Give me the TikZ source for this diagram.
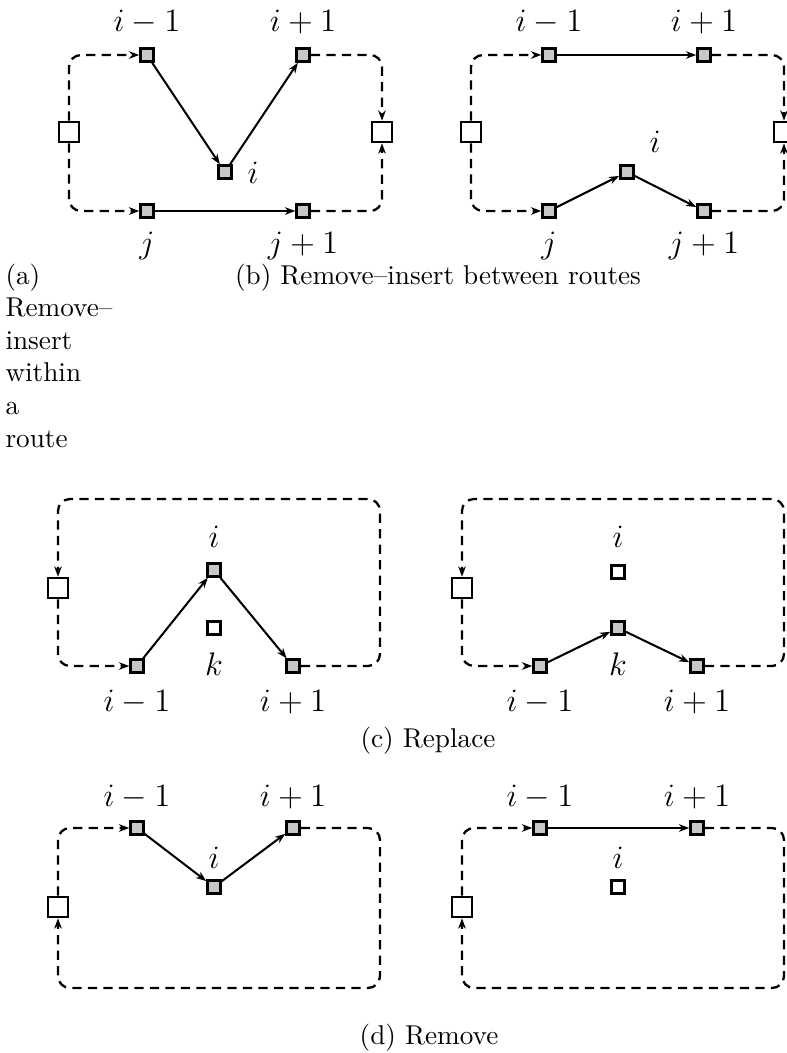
\documentclass[tikz,border=0pt]{standalone}
\usetikzlibrary{arrows.meta}
\begin{document}
\begin{tikzpicture}[x=0.3676pt,y=-0.3676pt,
  cust/.style={draw,fill=black!22,line width=0.9pt,minimum size=4.8pt,inner sep=0pt},
  depot/.style={draw,fill=white,line width=0.9pt,minimum size=7.4pt,inner sep=0pt},
  free/.style={draw,fill=white,line width=0.9pt,minimum size=4.8pt,inner sep=0pt},
  lbl/.style={font=\large,anchor=base,inner sep=0pt},
  captxt/.style={anchor=base,inner sep=0pt},
  arc/.style={line width=0.75pt,-{Stealth[length=3.8pt,width=2.8pt]}},
  route/.style={line width=0.85pt,dash pattern=on 3.4pt off 2.3pt,rounded corners=4.4pt},
  routea/.style={route,-{Stealth[length=3.8pt,width=2.8pt]}}
]
\useasboundingbox (0,0) rectangle (787,1053);

% ---------- (a) ----------
\node[depot] (aL) at (69,132) {};
\node[depot] (aR) at (382,132) {};
\node[cust] (aim) at (147,55) {};
\node[cust] (aip) at (303,55) {};
\node[cust] (ai) at (225,172) {};
\node[cust] (aj) at (147,211) {};
\node[cust] (ajp) at (303,211) {};
\draw[routea] (aL.north) |- (aim.west);
\draw[routea] (aL.south) |- (aj.west);
\draw[routea] (aip.east) -| (aR.north);
\draw[routea] (ajp.east) -| (aR.south);
\draw[arc] (aim) -- (ai);
\draw[arc] (ai) -- (aip);
\draw[arc] (aj) -- (ajp);
\node[lbl] (laim) at (147,31) {$i-1$};
\node[lbl] (laip) at (303,31) {$i+1$};
\node[lbl] (lai) at (253,183) {$i$};
\node[lbl] (laj) at (147,253) {$j$};
\node[lbl] (lajp) at (303,253) {$j+1$};

% ---------- (b) ----------
\node[depot] (bL) at (471,132) {};
\node[depot] (bR) at (784,132) {};
\node[cust] (bim) at (549,55) {};
\node[cust] (bip) at (704,55) {};
\node[cust] (bi) at (627,172) {};
\node[cust] (bj) at (549,211) {};
\node[cust] (bjp) at (704,211) {};
\draw[routea] (bL.north) |- (bim.west);
\draw[routea] (bL.south) |- (bj.west);
\draw[routea] (bip.east) -| (bR.north);
\draw[routea] (bjp.east) -| (bR.south);
\draw[arc] (bim) -- (bip);
\draw[arc] (bj) -- (bi);
\draw[arc] (bi) -- (bjp);
\node[lbl] (lbim) at (549,31) {$i-1$};
\node[lbl] (lbip) at (704,31) {$i+1$};
\node[lbl] (lbi) at (655,152) {$i$};
\node[lbl] (lbj) at (549,253) {$j$};
\node[lbl] (lbjp) at (704,253) {$j+1$};

% captions (a), (b)
\node[captxt,anchor=base west] (capa1) at (5,284) {(a)};
\node[captxt,anchor=base west] (capa2) at (5,316.6) {Remove--};
\node[captxt,anchor=base west] (capa3) at (5,349.2) {insert};
\node[captxt,anchor=base west] (capa4) at (5,381.8) {within};
\node[captxt,anchor=base west] (capa5) at (5,414.4) {a};
\node[captxt,anchor=base west] (capa6) at (5,447) {route};
\node[captxt] (capb) at (438,284) {(b) Remove--insert between routes};

% ---------- (c) left ----------
\coordinate (cTR) at (380,499);
\node[depot] (cD) at (58,588) {};
\node[cust] (cim) at (137,666) {};
\node[cust] (ci) at (214,570) {};
\node[cust] (cip) at (293,666) {};
\node[free] (ck) at (214,628) {};
\draw[routea] (cD.south) |- (cim.west);
\draw[routea] (cip.east) -| (cTR) -| (cD.north);
\draw[arc] (cim) -- (ci);
\draw[arc] (ci) -- (cip);
\node[lbl] (lci) at (214,547) {$i$};
\node[lbl] (lck) at (214,675) {$k$};
\node[lbl] (lcim) at (137,711) {$i-1$};
\node[lbl] (lcip) at (293,711) {$i+1$};

% ---------- (c) right ----------
\coordinate (dTR) at (784,499);
\node[depot] (eD) at (462,588) {};
\node[cust] (eim) at (540,666) {};
\node[free] (ei) at (618,572) {};
\node[cust] (ek) at (618,628) {};
\node[cust] (eip) at (697,666) {};
\draw[routea] (eD.south) |- (eim.west);
\draw[routea] (eip.east) -| (dTR) -| (eD.north);
\draw[arc] (eim) -- (ek);
\draw[arc] (ek) -- (eip);
\node[lbl] (lei) at (618,547) {$i$};
\node[lbl] (lek) at (618,675) {$k$};
\node[lbl] (leim) at (540,711) {$i-1$};
\node[lbl] (leip) at (697,711) {$i+1$};

\node[captxt] (capc) at (428,747) {(c) Replace};

% ---------- (d) left ----------
\coordinate (fBR) at (380,988);
\node[depot] (fD) at (58,907) {};
\node[cust] (fim) at (137,828) {};
\node[cust] (fi) at (214,887) {};
\node[cust] (fip) at (293,828) {};
\draw[routea] (fD.north) |- (fim.west);
\draw[routea] (fip.east) -| (fBR) -| (fD.south);
\draw[arc] (fim) -- (fi);
\draw[arc] (fi) -- (fip);
\node[lbl] (lfim) at (137,806) {$i-1$};
\node[lbl] (lfip) at (293,806) {$i+1$};
\node[lbl] (lfi) at (214,868) {$i$};

% ---------- (d) right ----------
\coordinate (gBR) at (784,988);
\node[depot] (gD) at (462,907) {};
\node[cust] (gim) at (540,828) {};
\node[free] (gi) at (618,887) {};
\node[cust] (gip) at (697,828) {};
\draw[routea] (gD.north) |- (gim.west);
\draw[routea] (gip.east) -| (gBR) -| (gD.south);
\draw[arc] (gim) -- (gip);
\node[lbl] (lgim) at (540,806) {$i-1$};
\node[lbl] (lgip) at (697,806) {$i+1$};
\node[lbl] (lgi) at (618,868) {$i$};

\node[captxt] (capd) at (429,1044) {(d) Remove};
\end{tikzpicture}
\end{document}
